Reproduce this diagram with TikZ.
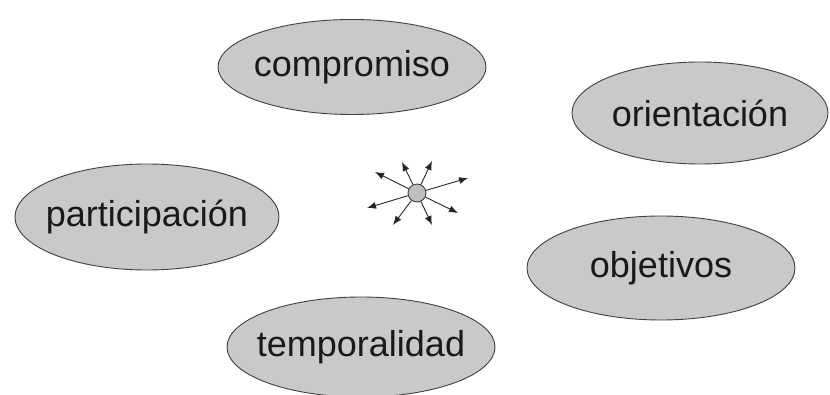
\documentclass[tikz,border=0pt]{standalone}
\usepackage{fontspec}
\setmainfont{Liberation Sans}
\usetikzlibrary{shapes.geometric,arrows.meta}
\begin{document}
\begin{tikzpicture}[x=1pt,y=-1pt,
  blob/.style={ellipse,draw=black!75,line width=0.9pt,fill=black!21,inner sep=0pt},
  word/.style={font=\fontsize{36}{42}\selectfont,inner sep=0pt,text=black!90},
  ray/.style={-{Latex[length=9pt,width=7pt]},line width=0.9pt,draw=black!85}]
\useasboundingbox (0,0) rectangle (830,395);
\node[blob,minimum width=268pt,minimum height=95pt] (e1) at (352,67) {};
\node[word] (t1) at (e1.center) {compromiso};
\node[blob,minimum width=256pt,minimum height=102pt] (e2) at (700,113) {};
\node[word] (t2) at (e2.center) {orientación};
\node[blob,minimum width=264pt,minimum height=106pt] (e3) at (147,217) {};
\node[word] (t3) at (e3.center) {participación};
\node[blob,minimum width=268pt,minimum height=104pt] (e4) at (661,268) {};
\node[word] (t4) at (e4.center) {objetivos};
\node[blob,minimum width=268pt,minimum height=100pt] (e5) at (361,347) {};
\node[word] (t5) at (e5.center) {temporalidad};
\node[circle,draw=black!75,line width=0.9pt,fill=black!25,minimum size=18pt,inner sep=0pt] (c) at (417,193) {};
\coordinate (a1) at (402,162);
\coordinate (a2) at (432,161);
\coordinate (a3) at (375,172);
\coordinate (a4) at (468,178);
\coordinate (a5) at (367,208);
\coordinate (a6) at (458,213);
\coordinate (a7) at (393,225);
\coordinate (a8) at (432,225);
\foreach \i in {1,...,8} \draw[ray] (c) -- (a\i);
\end{tikzpicture}
\end{document}
